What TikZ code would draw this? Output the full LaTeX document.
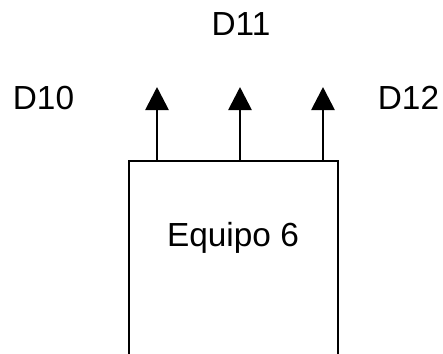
\documentclass[tikz,border=0pt]{standalone}
\usepackage{fontspec}
\setmainfont{Liberation Sans}
\usetikzlibrary{positioning, arrows.meta}

\begin{document}
\begin{tikzpicture}[
    x=0.02cm, y=-0.02cm,
    equipo/.style={rectangle, draw=black, line width=1.1pt,
                   minimum width=4.18cm, minimum height=4.6cm, inner sep=0pt},
    salida/.style={-{Triangle[width=0.46cm, length=0.46cm]}, line width=1.6pt},
    etiqueta/.style={font=\fontsize{19}{22}\selectfont, inner sep=0pt, anchor=base},
  ]
    \useasboundingbox (0,0) rectangle (443,353);
    \clip (0,0) rectangle (443,353);

    \node[equipo, anchor=north west] (E6) at (128,160) {};
    \node[etiqueta] (nombre) at (233,246) {Equipo 6};

    % salidas del equipo
    \foreach \sal/\xpos in {a/157, b/240, c/323} {
      \coordinate (base-\sal) at (\xpos,160);
      \coordinate (punta-\sal) at (\xpos,87);
      \draw[salida] (base-\sal) -- (punta-\sal);
    }

    \node[etiqueta] (D10) at (43.5,109) {D10};
    \node[etiqueta] (D11) at (241,35) {D11};
    \node[etiqueta] (D12) at (408.5,109) {D12};
  \end{tikzpicture}
\end{document}
